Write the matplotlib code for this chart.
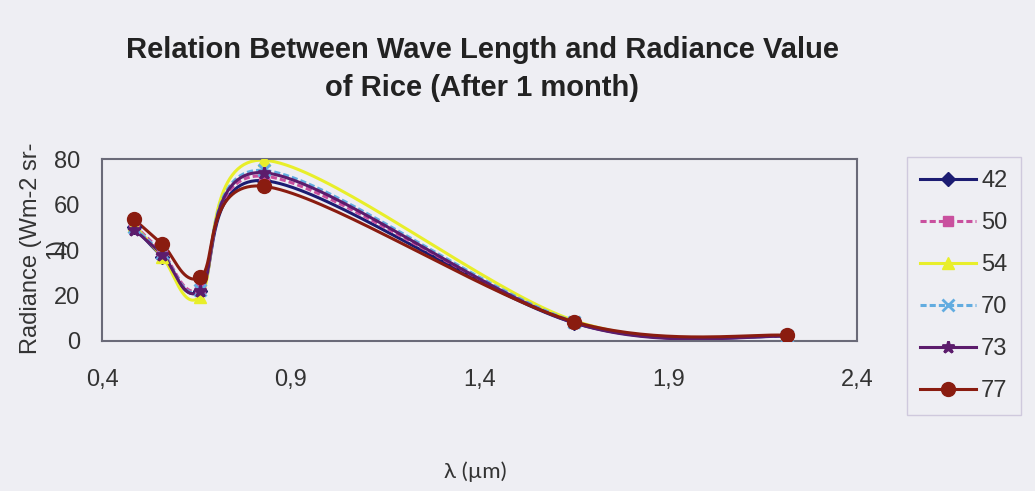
import numpy as np
import matplotlib.pyplot as plt
from matplotlib.lines import Line2D

# wavelengths (um) of the bands
wavelength = [0.485, 0.56, 0.66, 0.83, 1.65, 2.215]

# radiance per series (label -> values)
labels = ['42', '50', '54', '70', '73', '77']
r42 = [50.0, 37.0, 22.0, 70.5, 8.0, 2.0]
r50 = [51.0, 39.0, 23.0, 72.5, 8.5, 2.0]
r54 = [51.0, 37.0, 19.5, 79.5, 9.0, 2.3]
r70 = [50.0, 38.5, 22.5, 75.0, 8.5, 2.0]
r73 = [49.0, 38.0, 22.0, 74.0, 8.0, 2.0]
r77 = [53.5, 42.5, 28.0, 68.0, 8.5, 2.5]
series = [r42, r50, r54, r70, r73, r77]

colors = ['#1c1c72', '#c9509e', '#e8ee2a', '#62ace0', '#5c1c6c', '#8a1c10']
markers = ['D', 's', '^', 'x', '*', 'o']
msizes = [7, 7, 8, 8, 9, 10]
styles = ['-', (0, (2, 1)), '-', (0, (2, 1)), '-', '-']


def smooth(xs, ys, n=40):
    # Excel-style smoothed line: cubic Bezier with Catmull-Rom control points
    p = np.column_stack([xs, ys])
    p = np.vstack([p[0], p, p[-1]])
    out = []
    t = np.linspace(0, 1, n)[:, None]
    for i in range(1, len(p) - 2):
        p0, p1, p2, p3 = p[i - 1], p[i], p[i + 1], p[i + 2]
        c1 = p1 + (p2 - p0) / 6
        c2 = p2 - (p3 - p1) / 6
        seg = ((1 - t) ** 3) * p1 + 3 * ((1 - t) ** 2) * t * c1 \
            + 3 * (1 - t) * t ** 2 * c2 + t ** 3 * p2
        out.append(seg)
    out = np.vstack(out)
    return out[:, 0], out[:, 1]


bg = '#eeeef3'
plt.rcParams['font.family'] = ['Liberation Sans', 'DejaVu Sans']

fig = plt.figure(figsize=(10.35, 4.91), dpi=100, facecolor=bg)
ax = fig.add_axes([0.0986, 0.3055, 0.7295, 0.3705], facecolor=bg)

for vals, c, m, ms, ls in zip(series, colors, markers, msizes, styles):
    sx, sy = smooth(wavelength, vals)
    ax.plot(sx, sy, color=c, lw=2.2, ls=ls, zorder=2)
    ax.plot(wavelength, vals, ls='none', marker=m, ms=ms, color=c,
            mec=c, mew=2 if m in ('x', '*') else 1, zorder=3)

ax.set_xlim(0.4, 2.4)
ax.set_ylim(0, 80)
ax.set_xticks([0.4, 0.9, 1.4, 1.9, 2.4])
ax.set_xticklabels(['0,4', '0,9', '1,4', '1,9', '2,4'])
ax.set_yticks([0, 20, 40, 60, 80])
ax.tick_params(labelsize=17, colors='#333333', length=0)
ax.tick_params(axis='x', pad=20)
ax.tick_params(axis='y', pad=16)
for s in ax.spines.values():
    s.set_color('#6a6a78')
    s.set_linewidth(1.5)

# y label wrapped over two lines, as in the original chart
fig.text(0.0295, 0.495, 'Radiance (Wm-2 sr-', rotation=90,
         ha='center', va='center', fontsize=17, color='#333333')
fig.text(0.054, 0.495, '1)', rotation=90,
         ha='center', va='center', fontsize=17, color='#333333')

fig.text(0.466, 0.86, 'Relation Between Wave Length and Radiance Value\nof Rice (After 1 month)',
         ha='center', va='center', fontsize=21, fontweight='bold',
         color='#222222', linespacing=1.45)
fig.text(0.459, 0.04, 'λ (µm)', ha='center', va='center', fontsize=16,
         color='#333333', family=['Lato', 'DejaVu Sans'])

handles = [Line2D([0], [0], color=c, lw=2.2, ls=ls, marker=m, ms=ms,
                  mew=2 if m in ('x', '*') else 1)
           for c, m, ms, ls in zip(colors, markers, msizes, styles)]
leg = fig.legend(handles, labels, loc='upper left',
                 bbox_to_anchor=(0.876, 0.68), fontsize=17,
                 frameon=True, fancybox=False, handlelength=2.4,
                 labelspacing=0.85, borderpad=0.55, handletextpad=0.2,
                 borderaxespad=0)
leg.get_frame().set_edgecolor('#c8c0d8')
leg.get_frame().set_facecolor(bg)
for t in leg.get_texts():
    t.set_color('#333333')

fig.savefig('out.png', dpi=100, facecolor=bg)
